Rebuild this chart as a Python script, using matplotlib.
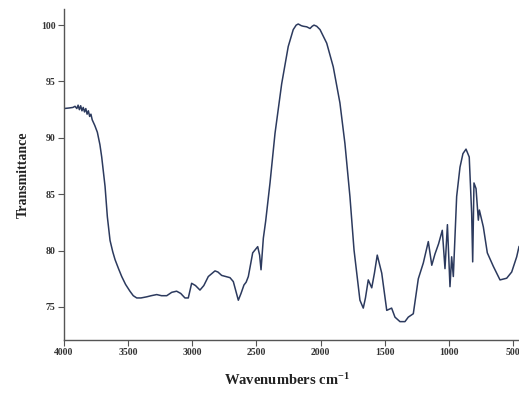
import matplotlib
matplotlib.use("Agg")
import matplotlib.pyplot as plt

plt.rcParams["mathtext.fontset"] = "custom"
plt.rcParams["mathtext.rm"] = "Liberation Serif:bold"
plt.rcParams["mathtext.it"] = "Liberation Serif:bold"
plt.rcParams["mathtext.bf"] = "Liberation Serif:bold"

wavenumber = [4000, 3960, 3930, 3914, 3900, 3890, 3880, 3870, 3860, 3850, 3840, 3830, 3820, 3810,
              3800, 3790, 3780, 3772, 3760, 3750, 3740, 3733, 3720, 3706, 3695, 3680, 3662, 3641,
              3620, 3602, 3575, 3550, 3520, 3486, 3460, 3433, 3400, 3355, 3320, 3277, 3240, 3199,
              3160, 3122, 3090, 3057, 3031, 3005, 2975, 2940, 2910, 2875, 2823, 2800, 2771, 2740,
              2706, 2680, 2660, 2641, 2620, 2597, 2580, 2563, 2529, 2490, 2475, 2464, 2446, 2428,
              2394, 2355, 2303, 2252, 2213, 2190, 2174, 2150, 2135, 2108, 2082, 2065, 2051, 2030,
              2004, 1952, 1901, 1849, 1810, 1771, 1739, 1693, 1667, 1650, 1628, 1601, 1580, 1558,
              1523, 1484, 1446, 1420, 1381, 1342, 1316, 1277, 1238, 1199, 1160, 1133, 1108, 1080,
              1051, 1030, 1011, 991, 978, 965, 939, 913, 890, 866, 841, 822, 814, 804, 788, 770,
              762, 731, 700, 653, 601, 549, 510, 471, 453]
transmittance = [92.6, 92.65, 92.7, 92.8, 92.6, 92.9, 92.5, 92.85, 92.4, 92.7, 92.3, 92.6, 92.1, 92.4,
                 91.9, 92.1, 91.6, 91.4, 91.1, 90.8, 90.5, 90.1, 89.4, 88.3, 87.2, 85.7, 83.0, 80.9,
                 79.9, 79.2, 78.4, 77.7, 77.0, 76.4, 76.0, 75.8, 75.8, 75.9, 76.0, 76.1, 76.0, 76.0,
                 76.3, 76.4, 76.2, 75.8, 75.8, 77.1, 76.9, 76.5, 76.9, 77.7, 78.2, 78.1, 77.8, 77.7,
                 77.6, 77.25, 76.4, 75.6, 76.2, 76.95, 77.2, 77.7, 79.8, 80.35, 79.6, 78.3, 81.1, 82.6,
                 86.0, 90.4, 94.8, 98.1, 99.6, 100.0, 100.1, 99.95, 99.9, 99.85, 99.7, 99.9, 100.0, 99.9,
                 99.6, 98.4, 96.3, 93.1, 89.5, 84.8, 80.05, 75.6, 74.9, 75.8, 77.4, 76.7, 78.0, 79.6,
                 78.0, 74.7, 74.9, 74.1, 73.7, 73.7, 74.1, 74.4, 77.5, 78.9, 80.8, 78.7, 79.7, 80.6,
                 81.8, 78.4, 82.3, 76.8, 79.45, 77.7, 84.8, 87.4, 88.6, 89.0, 88.3, 83.3, 79.0, 86.0, 85.5, 82.7,
                 83.6, 82.1, 79.8, 78.6, 77.4, 77.55, 78.1, 79.45, 80.35]

xticks = [4000, 3500, 3000, 2500, 2000, 1500, 1000, 500]
yticks = [75, 80, 85, 90, 95, 100]

fig = plt.figure(figsize=(5.19, 3.96), dpi=100)
ax = fig.add_axes([0.1233, 0.1414, 0.8767, 0.8356])
ax.plot(wavenumber, transmittance, color="#2c3a5e", lw=1.1)
ax.set_xlim(4000, 453)
ax.set_ylim(72.07, 101.42)
ax.set_xticks(xticks)
ax.set_yticks(yticks)
for s in ["top", "right"]:
    ax.spines[s].set_visible(False)
for s in ["left", "bottom"]:
    ax.spines[s].set_color("#555555")
    ax.spines[s].set_linewidth(1.0)
ax.tick_params(direction="out", length=4, width=0.8, color="#555555", labelsize=7, pad=2)
for lab in ax.get_xticklabels() + ax.get_yticklabels():
    lab.set_family("Liberation Serif")
    lab.set_fontweight("bold")
    lab.set_color("#333333")
ax.set_xlabel("Wavenumbers cm$^{-1}$", family="Liberation Serif", fontweight="bold",
              fontsize=10.5, color="#222222", va="center")
ax.set_ylabel("Transmittance", family="Liberation Serif", fontweight="bold", fontsize=10,
              color="#222222", va="center")
ax.xaxis.set_label_coords(0.49, -0.12)
ax.yaxis.set_label_coords(-0.09, 0.5)
fig.savefig("out.png", dpi=100)
